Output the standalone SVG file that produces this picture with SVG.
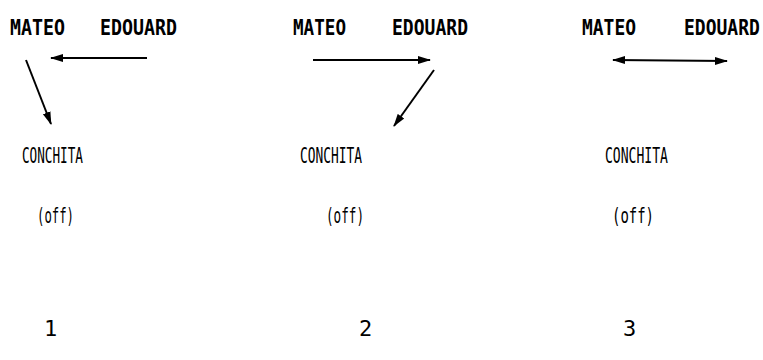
<svg xmlns="http://www.w3.org/2000/svg" width="763" height="360" viewBox="0 0 763 360">
<style>
.lbl{font-family:"DejaVu Sans Mono","Liberation Mono",monospace;font-size:22px;font-weight:bold;fill:#000}
.sub{font-family:"DejaVu Sans Mono","Liberation Mono",monospace;font-size:21px;fill:#000}
.num{font-family:"DejaVu Sans Mono","Liberation Mono",monospace;font-size:22px;fill:#000}
.arr{stroke:#000;stroke-width:2;fill:none}
</style>
<defs>
<marker id="ah" markerUnits="userSpaceOnUse" markerWidth="14" markerHeight="10" refX="12" refY="4" orient="auto-start-reverse" viewBox="0 0 14 8">
<path d="M0,0 L13,4 L0,8 Z" fill="#000"/>
</marker>
</defs>
<rect width="763" height="360" fill="#fff"/>
<g id="panel1">
<g id="p1-mateo"><text class="lbl" x="10" y="35" textLength="55" lengthAdjust="spacingAndGlyphs">MATEO</text></g>
<g id="p1-edouard"><text class="lbl" x="100" y="35" textLength="77" lengthAdjust="spacingAndGlyphs">EDOUARD</text></g>
<g id="p1-conchita"><text class="sub" x="22" y="163" textLength="61" lengthAdjust="spacingAndGlyphs">CONCHITA</text></g>
<g id="p1-off"><text class="sub" x="37" y="223" textLength="37" lengthAdjust="spacingAndGlyphs">(off)</text></g>
<g id="p1-num"><text class="num" x="44" y="336">1</text></g>
</g>
<g id="panel2">
<g id="p2-mateo"><text class="lbl" x="293" y="35" textLength="53" lengthAdjust="spacingAndGlyphs">MATEO</text></g>
<g id="p2-edouard"><text class="lbl" x="392" y="35" textLength="76" lengthAdjust="spacingAndGlyphs">EDOUARD</text></g>
<g id="p2-conchita"><text class="sub" x="300" y="163" textLength="62" lengthAdjust="spacingAndGlyphs">CONCHITA</text></g>
<g id="p2-off"><text class="sub" x="326" y="223" textLength="38" lengthAdjust="spacingAndGlyphs">(off)</text></g>
<g id="p2-num"><text class="num" x="359" y="336">2</text></g>
</g>
<g id="panel3">
<g id="p3-mateo"><text class="lbl" x="582" y="35" textLength="54" lengthAdjust="spacingAndGlyphs">MATEO</text></g>
<g id="p3-edouard"><text class="lbl" x="0" y="0" transform="translate(684,35) scale(1,1.2)" style="font-size:18px">EDOUARD</text></g>
<g id="p3-conchita"><text class="sub" x="605" y="163" textLength="63" lengthAdjust="spacingAndGlyphs">CONCHITA</text></g>
<g id="p3-off"><text class="sub" x="612" y="223" textLength="42" lengthAdjust="spacingAndGlyphs">(off)</text></g>
<g id="p3-num"><text class="num" x="623" y="336">3</text></g>
</g>
<g id="connectors">
<line class="arr" x1="147" y1="58" x2="51" y2="58" marker-end="url(#ah)"/>
<line class="arr" x1="26" y1="60" x2="51" y2="124" marker-end="url(#ah)"/>
<line class="arr" x1="313" y1="60" x2="430" y2="60" marker-end="url(#ah)"/>
<line class="arr" x1="434" y1="70" x2="394" y2="126" marker-end="url(#ah)"/>
<line class="arr" x1="613" y1="60" x2="727" y2="61" marker-start="url(#ah)" marker-end="url(#ah)"/>
</g>
</svg>
